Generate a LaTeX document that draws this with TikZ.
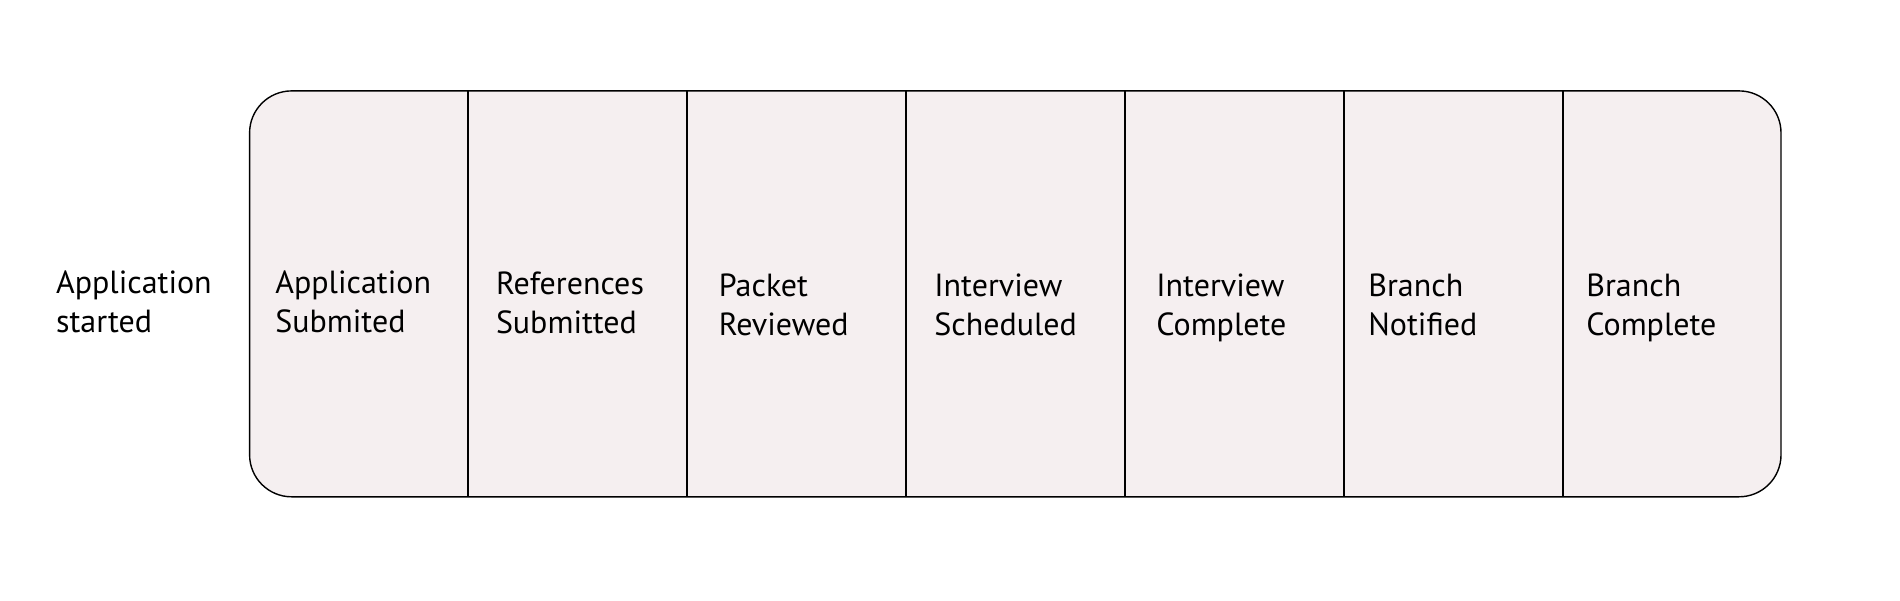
\documentclass[tikz,border=0pt]{standalone}
\usepackage{fontspec}
\setmainfont{PT Sans}
\definecolor{cellfill}{HTML}{F5EFF0}
\tikzset{
  lbl/.style={anchor=west, align=left, inner sep=0pt, font=\fontsize{16}{19.5}\selectfont},
  frame/.style={draw=black, line width=0.7pt, fill=cellfill, rounded corners=21pt},
  divider/.style={draw=black, line width=1pt}
}
\newcommand{\twolines}[2]{\strut#1\\\strut#2}
\begin{document}
\begin{tikzpicture}[x=0.5pt,y=-0.5pt]
\useasboundingbox (0,0) rectangle (1900,600);
\draw[frame] (249.6,90.9) rectangle (1781,496.8);
\foreach \x in {467.7,687,906.4,1124.5,1343.8,1563.1} {
  \draw[divider] (\x,90.9) -- (\x,496.8);
}
\node[lbl] (s0) at (55.7,305) {\twolines{Application}{started}};
\node[lbl] (s1) at (275,305) {\twolines{Application}{Submited}};
\node[lbl] (s2) at (495.6,306) {\twolines{References}{Submitted}};
\node[lbl] (s3) at (718.5,308) {\twolines{Packet}{Reviewed}};
\node[lbl] (s4) at (934,308) {\twolines{Interview}{Scheduled}};
\node[lbl] (s5) at (1156,308) {\twolines{Interview}{Complete}};
\node[lbl] (s6) at (1368,308) {\twolines{Branch}{Notified}};
\node[lbl] (s7) at (1586,308) {\twolines{Branch}{Complete}};
\end{tikzpicture}
\end{document}
